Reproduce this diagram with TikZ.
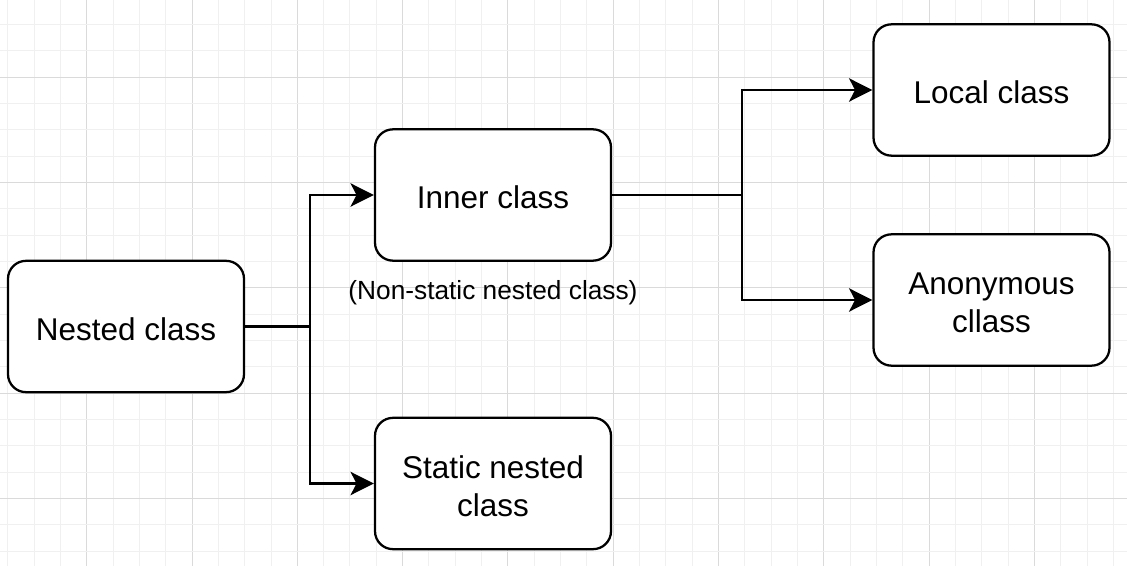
\documentclass[tikz,border=0pt]{standalone}
\usepackage{fontspec}
\setmainfont{Liberation Sans}
\usetikzlibrary{arrows.meta}
\tikzset{
  box/.style={draw=black, line width=1.7pt, rounded corners=13.5pt, fill=white,
    minimum width=177pt, minimum height=98.5pt, inner sep=0pt},
  boxtext/.style={align=center, inner sep=0pt, yshift=-1.9pt,
    font=\fontsize{23.6}{28.2}\selectfont},
  conn/.style={draw=black, line width=1.7pt, -{Stealth[length=17.5pt,width=17.5pt,inset=4.5pt]}},
  lbl/.style={font=\fontsize{19.7}{23}\selectfont, inner sep=0pt},
  minorgrid/.style={draw={rgb,255:red,240;green,240;blue,240}, line width=0.75pt},
  majorgrid/.style={draw={rgb,255:red,218;green,218;blue,218}, line width=0.75pt}
}
\begin{document}
\begin{tikzpicture}[x=0.75pt,y=-0.75pt]
\useasboundingbox (0,0) rectangle (1127,566);
\fill[white] (0,0) rectangle (1127,566);
% grid
\foreach \k in {0,...,43} {
  \pgfmathsetmacro{\xx}{7.7+26.33*\k}
  \pgfmathtruncatemacro{\m}{mod(\k,4)}
  \ifnum\m=3
    \draw[majorgrid] (\xx,0) -- (\xx,566);
  \else
    \draw[minorgrid] (\xx,0) -- (\xx,566);
  \fi
}
\foreach \k in {0,...,22} {
  \pgfmathsetmacro{\yy}{-1.7+26.33*\k}
  \pgfmathtruncatemacro{\m}{mod(\k,4)}
  \ifnum\m=3
    \draw[majorgrid] (0,\yy) -- (1127,\yy);
  \else
    \draw[minorgrid] (0,\yy) -- (1127,\yy);
  \fi
}
% nodes
\node[box, label={[boxtext]center:Nested class}] (nested) at (126,326.5) {};
\node[box, label={[boxtext]center:Inner class}] (inner) at (493,195) {};
\node[box, label={[boxtext]center:{Static nested\\class}}] (static) at (493,483.5) {};
\node[box, label={[boxtext]center:Local class}] (local) at (991.5,90) {};
\node[box, label={[boxtext]center:{Anonymous\\cllass}}] (anon) at (991.5,300) {};
\node[lbl] (note) at (493,292.5) {(Non-static nested class)};
% junctions
\coordinate (j1) at (310,326.5);
\coordinate (j2) at (742,195);
% connectors
\draw[conn] (nested.east) -- (j1) |- (inner.west);
\draw[conn] (nested.east) -- (j1) |- (static.west);
\draw[conn] (inner.east) -- (j2) |- (local.west);
\draw[conn] (inner.east) -- (j2) |- (anon.west);
\end{tikzpicture}
\end{document}
